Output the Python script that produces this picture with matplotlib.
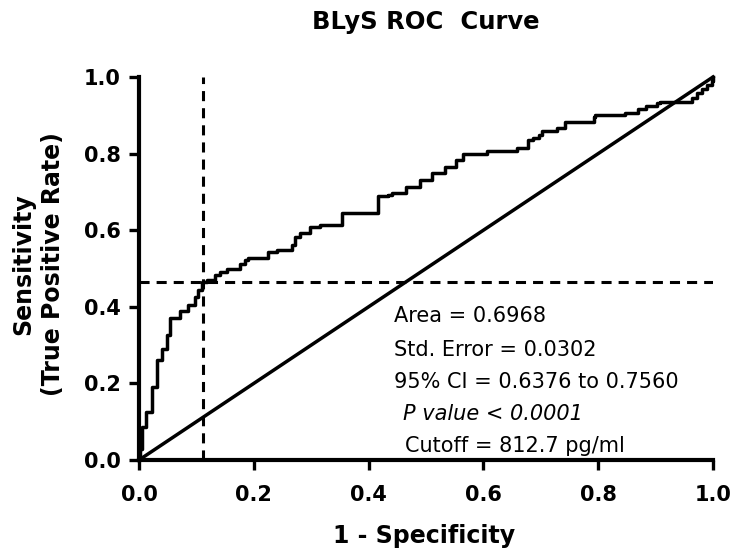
import matplotlib
matplotlib.use("Agg")
import matplotlib.pyplot as plt

# roc curve (rise points of the staircase)
fpr = [0.000, 0.002, 0.006, 0.013, 0.022, 0.031, 0.040, 0.048, 0.054, 0.071,
       0.086, 0.098, 0.103, 0.109, 0.118, 0.132, 0.141, 0.153, 0.176, 0.185,
       0.190, 0.225, 0.240, 0.266, 0.272, 0.280, 0.298, 0.315, 0.353, 0.417,
       0.434, 0.440, 0.466, 0.490, 0.510, 0.533, 0.553, 0.565, 0.606, 0.658,
       0.678, 0.687, 0.696, 0.702, 0.728, 0.742, 0.792, 0.794, 0.847, 0.870,
       0.884, 0.902, 0.908, 0.963, 0.972, 0.980, 0.989, 0.998, 1.000]
tpr = [0.000, 0.030, 0.087, 0.126, 0.190, 0.260, 0.290, 0.326, 0.370, 0.390,
       0.405, 0.426, 0.444, 0.465, 0.470, 0.483, 0.492, 0.500, 0.513, 0.522,
       0.527, 0.544, 0.548, 0.561, 0.583, 0.592, 0.609, 0.614, 0.644, 0.688,
       0.692, 0.696, 0.714, 0.731, 0.749, 0.766, 0.783, 0.800, 0.807, 0.814,
       0.836, 0.840, 0.849, 0.860, 0.866, 0.883, 0.896, 0.900, 0.907, 0.916,
       0.924, 0.933, 0.936, 0.944, 0.958, 0.968, 0.979, 0.990, 1.000]

# cutoff point (dashed guide lines)
cutoff_fpr = 0.111
cutoff_tpr = 0.465

ticks = [0.0, 0.2, 0.4, 0.6, 0.8, 1.0]
tick_labels = ["0.0", "0.2", "0.4", "0.6", "0.8", "1.0"]

title = "BLyS ROC  Curve"
xlabel = "1 - Specificity"
ylabel = "Sensitivity\n(True Positive Rate)"

stats = ["Area = 0.6968", "Std. Error = 0.0302", "95% CI = 0.6376 to 0.7560",
         "P value < 0.0001", "Cutoff = 812.7 pg/ml"]
stats_style = ["normal", "normal", "normal", "italic", "normal"]
# left edge / baseline of each stats line, in pixels from top-left
stats_pos = [(394, 322), (394, 356), (394, 388), (403, 420), (405, 452)]

W, H = 731, 552


def fx(x):
    return x / W


def fy(y):
    return 1 - y / H


plt.rcParams["font.family"] = ["DejaVu Sans"]

fig = plt.figure(figsize=(W / 100, H / 100), dpi=100)
ax = fig.add_axes([fx(139), fy(460), (713 - 139) / W, (460 - 77) / H])

# roc staircase and reference diagonal
ax.plot(fpr, tpr, color="black", lw=2.5, drawstyle="steps-post", clip_on=False, zorder=3)
ax.plot([0, 1], [0, 1], color="black", lw=2.5, clip_on=False, zorder=3)

# cutoff guides
ax.axvline(cutoff_fpr, color="black", lw=2.2, linestyle=(0, (3.3, 2.3)), zorder=2)
ax.axhline(cutoff_tpr, color="black", lw=2.2, linestyle=(0, (3.3, 2.3)), zorder=2)

ax.set_xlim(0, 1)
ax.set_ylim(0, 1)
ax.set_xticks(ticks)
ax.set_yticks(ticks)
ax.set_xticklabels(tick_labels, fontsize=15, fontweight="bold")
ax.set_yticklabels(tick_labels, fontsize=15, fontweight="bold")

for side in ["top", "right"]:
    ax.spines[side].set_visible(False)
for side in ["left", "bottom"]:
    ax.spines[side].set_linewidth(3.0)
    ax.spines[side].set_capstyle("projecting")

ax.tick_params(axis="both", direction="out", length=7.2, width=2.4, color="black")
ax.tick_params(axis="x", pad=11)
ax.tick_params(axis="y", pad=6)

# titles
fig.text(fx(426), fy(29), title, ha="center", va="baseline",
         fontsize=17.5, fontweight="bold")
fig.text(fx(424), fy(543), xlabel, ha="center", va="baseline",
         fontsize=17, fontweight="bold")
fig.text(fx(38), fy(264), ylabel, ha="center", va="center", rotation=90,
         multialignment="center", linespacing=1.3, fontsize=17, fontweight="bold")

# stats box text
for s, st, (px, py) in zip(stats, stats_style, stats_pos):
    fig.text(fx(px), fy(py), s, ha="left", va="baseline", fontsize=15, style=st)

fig.savefig("out.png", dpi=100)
